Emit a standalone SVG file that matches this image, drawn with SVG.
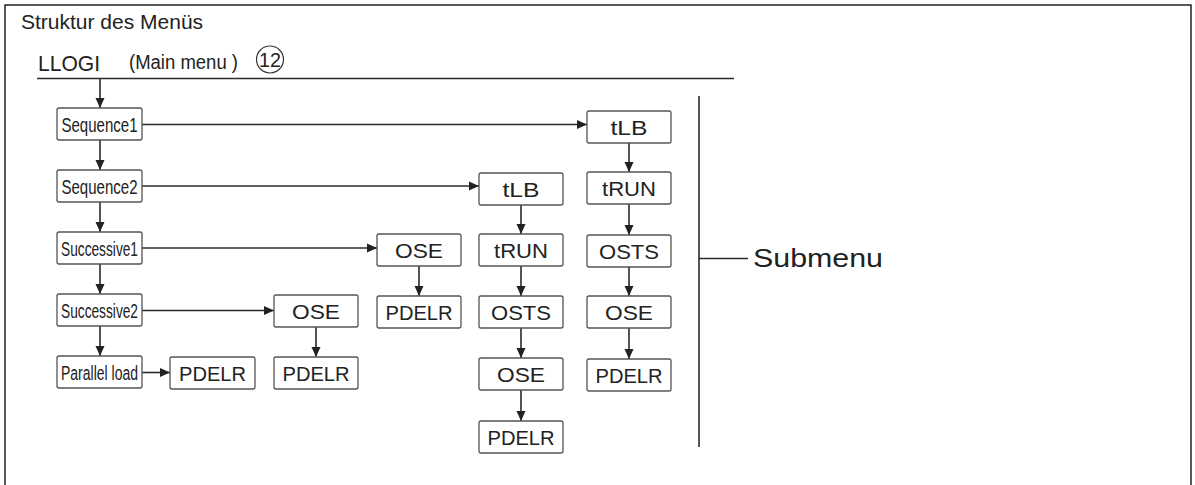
<svg xmlns="http://www.w3.org/2000/svg" width="1195" height="485" viewBox="0 0 1195 485">
<style>
.box{fill:#ffffff;stroke:#555;stroke-width:1.3}
.ln{stroke:#2a2a2a;stroke-width:1.6;fill:none}
.t{font-family:"Liberation Sans",Arial,sans-serif;font-size:21px;fill:#222;text-anchor:middle}
.s{font-family:"Liberation Sans",Arial,sans-serif;font-size:20px;fill:#222;text-anchor:middle}
.h{font-family:"Liberation Sans",Arial,sans-serif;fill:#222}
</style>
<defs>
<marker id="ah" viewBox="0 0 10 10" refX="10" refY="5" markerWidth="10" markerHeight="10" markerUnits="userSpaceOnUse" orient="auto">
<path d="M0,0.5 L10,5 L0,9.5 z" fill="#222"/>
</marker>
</defs>
<rect x="0" y="0" width="1195" height="485" fill="#ffffff"/>
<rect x="5" y="5" width="1186" height="490" fill="none" stroke="#222" stroke-width="1.5"/>
<text class="h" x="21" y="29" font-size="21">Struktur des Menüs</text>
<g id="header">
<text class="h" x="38" y="71" font-size="22" textLength="62" lengthAdjust="spacingAndGlyphs">LLOGI</text>
<text class="h" x="129" y="69" font-size="20" textLength="109" lengthAdjust="spacingAndGlyphs">(Main menu )</text>
<circle cx="270" cy="59.5" r="13.5" fill="none" stroke="#333" stroke-width="1.2"/>
<text class="h" x="270" y="67" font-size="21" text-anchor="middle" textLength="22" lengthAdjust="spacingAndGlyphs">12</text>
</g>
<g id="connectors">
<line class="ln" x1="37" y1="78.5" x2="734" y2="78.5"/>
<line class="ln" x1="100" y1="79" x2="100" y2="108" marker-end="url(#ah)"/>
<line class="ln" x1="100" y1="140" x2="100" y2="170" marker-end="url(#ah)"/>
<line class="ln" x1="100" y1="202" x2="100" y2="232" marker-end="url(#ah)"/>
<line class="ln" x1="100" y1="264" x2="100" y2="294" marker-end="url(#ah)"/>
<line class="ln" x1="100" y1="326" x2="100" y2="356" marker-end="url(#ah)"/>
<line class="ln" x1="142" y1="124.5" x2="587" y2="124.5" marker-end="url(#ah)"/>
<line class="ln" x1="142" y1="186" x2="479" y2="186" marker-end="url(#ah)"/>
<line class="ln" x1="142" y1="248" x2="377" y2="248" marker-end="url(#ah)"/>
<line class="ln" x1="142" y1="310.5" x2="274" y2="310.5" marker-end="url(#ah)"/>
<line class="ln" x1="142" y1="372.5" x2="170" y2="372.5" marker-end="url(#ah)"/>
<line class="ln" x1="316" y1="327" x2="316" y2="357" marker-end="url(#ah)"/>
<line class="ln" x1="419" y1="266" x2="419" y2="296" marker-end="url(#ah)"/>
<line class="ln" x1="521" y1="205" x2="521" y2="234" marker-end="url(#ah)"/>
<line class="ln" x1="521" y1="266" x2="521" y2="296" marker-end="url(#ah)"/>
<line class="ln" x1="521" y1="328" x2="521" y2="358" marker-end="url(#ah)"/>
<line class="ln" x1="521" y1="390" x2="521" y2="421" marker-end="url(#ah)"/>
<line class="ln" x1="629" y1="143" x2="629" y2="172" marker-end="url(#ah)"/>
<line class="ln" x1="629" y1="204" x2="629" y2="235" marker-end="url(#ah)"/>
<line class="ln" x1="629" y1="267" x2="629" y2="296" marker-end="url(#ah)"/>
<line class="ln" x1="629" y1="328" x2="629" y2="359" marker-end="url(#ah)"/>
<line class="ln" x1="699" y1="96" x2="699" y2="447"/>
<line class="ln" x1="699" y1="258.5" x2="748" y2="258.5"/>
</g>
<g id="submenu-label"><text class="h" x="753" y="267" font-size="25" textLength="130" lengthAdjust="spacingAndGlyphs">Submenu</text></g>
<g id="sequence1"><rect class="box" x="57" y="108" width="85" height="32" rx="2"/><text class="s" x="99.5" y="131.5" textLength="76" lengthAdjust="spacingAndGlyphs">Sequence1</text></g>
<g id="sequence2"><rect class="box" x="57" y="170" width="85" height="32" rx="2"/><text class="s" x="99.5" y="193.5" textLength="76" lengthAdjust="spacingAndGlyphs">Sequence2</text></g>
<g id="successive1"><rect class="box" x="57" y="232" width="85" height="32" rx="2"/><text class="s" x="99.5" y="255.5" textLength="77" lengthAdjust="spacingAndGlyphs">Successive1</text></g>
<g id="successive2"><rect class="box" x="57" y="294" width="85" height="32" rx="2"/><text class="s" x="99.5" y="317.5" textLength="77" lengthAdjust="spacingAndGlyphs">Successive2</text></g>
<g id="parallel-load"><rect class="box" x="57" y="356" width="85" height="32" rx="2"/><text class="s" x="99.5" y="379.5" textLength="77" lengthAdjust="spacingAndGlyphs">Parallel load</text></g>
<g id="pl-pdelr"><rect class="box" x="170" y="357" width="85" height="32" rx="2"/><text class="t" x="212.5" y="381" textLength="67" lengthAdjust="spacingAndGlyphs">PDELR</text></g>
<g id="s2-ose"><rect class="box" x="274" y="295" width="84" height="32" rx="2"/><text class="t" x="316" y="319" textLength="48" lengthAdjust="spacingAndGlyphs">OSE</text></g>
<g id="s2-pdelr"><rect class="box" x="274" y="357" width="84" height="32" rx="2"/><text class="t" x="316" y="381" textLength="67" lengthAdjust="spacingAndGlyphs">PDELR</text></g>
<g id="s1-ose"><rect class="box" x="377" y="234" width="84" height="32" rx="2"/><text class="t" x="419" y="258" textLength="48" lengthAdjust="spacingAndGlyphs">OSE</text></g>
<g id="s1-pdelr"><rect class="box" x="377" y="296" width="84" height="32" rx="2"/><text class="t" x="419" y="320" textLength="67" lengthAdjust="spacingAndGlyphs">PDELR</text></g>
<g id="q2-tlb"><rect class="box" x="479" y="173" width="84" height="32" rx="2"/><text class="t" x="521" y="197" textLength="37" lengthAdjust="spacingAndGlyphs">tLB</text></g>
<g id="q2-trun"><rect class="box" x="479" y="234" width="84" height="32" rx="2"/><text class="t" x="521" y="258" textLength="54" lengthAdjust="spacingAndGlyphs">tRUN</text></g>
<g id="q2-osts"><rect class="box" x="479" y="296" width="84" height="32" rx="2"/><text class="t" x="521" y="320" textLength="60" lengthAdjust="spacingAndGlyphs">OSTS</text></g>
<g id="q2-ose"><rect class="box" x="479" y="358" width="84" height="32" rx="2"/><text class="t" x="521" y="382" textLength="48" lengthAdjust="spacingAndGlyphs">OSE</text></g>
<g id="q2-pdelr"><rect class="box" x="479" y="421" width="84" height="32" rx="2"/><text class="t" x="521" y="445" textLength="67" lengthAdjust="spacingAndGlyphs">PDELR</text></g>
<g id="q1-tlb"><rect class="box" x="587" y="111" width="84" height="32" rx="2"/><text class="t" x="629" y="135" textLength="37" lengthAdjust="spacingAndGlyphs">tLB</text></g>
<g id="q1-trun"><rect class="box" x="587" y="172" width="84" height="32" rx="2"/><text class="t" x="629" y="196" textLength="54" lengthAdjust="spacingAndGlyphs">tRUN</text></g>
<g id="q1-osts"><rect class="box" x="587" y="235" width="84" height="32" rx="2"/><text class="t" x="629" y="259" textLength="60" lengthAdjust="spacingAndGlyphs">OSTS</text></g>
<g id="q1-ose"><rect class="box" x="587" y="296" width="84" height="32" rx="2"/><text class="t" x="629" y="320" textLength="48" lengthAdjust="spacingAndGlyphs">OSE</text></g>
<g id="q1-pdelr"><rect class="box" x="587" y="359" width="84" height="32" rx="2"/><text class="t" x="629" y="383" textLength="67" lengthAdjust="spacingAndGlyphs">PDELR</text></g>
</svg>
